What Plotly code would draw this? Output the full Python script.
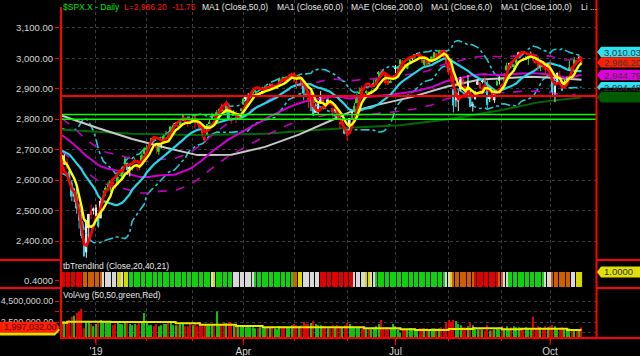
import numpy as np
import pandas as pd
import plotly.graph_objects as go

# ---------------- data ----------------
HOLIDAYS = ["2018-12-25", "2019-01-01", "2019-01-21", "2019-02-18", "2019-04-19",
            "2019-05-27", "2019-07-04", "2019-09-02"]
START, END = "2018-12-11", "2019-10-18"

# closes before the first visible bar (Sep 28 - Dec 10 2018), used by the moving averages
PRE_CLOSE = [2913.98,
             2924.59, 2923.43, 2925.51, 2901.61, 2885.57, 2884.43, 2880.34, 2785.68, 2728.37, 2767.13,
             2750.79, 2809.92, 2809.21, 2768.78, 2767.78, 2755.88, 2740.69, 2656.10, 2705.57, 2658.69,
             2641.25, 2682.63, 2711.74,
             2740.37, 2723.06, 2738.31, 2755.45, 2813.89, 2806.83, 2781.01, 2726.22, 2722.18, 2701.58,
             2730.20, 2736.27, 2690.73, 2641.89, 2649.93, 2632.56, 2673.45, 2682.17, 2743.79, 2737.80,
             2760.17,
             2790.37, 2700.06, 2695.95, 2633.08, 2637.72]

OPEN = [2664, 2658, 2659, 2629, 2591, 2559, 2547, 2497, 2466, 2401, 2363, 2443, 2499, 2499,
        2477, 2491, 2475, 2536, 2569, 2580, 2574, 2588, 2580, 2586, 2614, 2609, 2652, 2657, 2643, 2638, 2658, 2644, 2644, 2654, 2686,
        2702, 2706, 2727, 2736, 2717, 2693, 2712, 2722, 2751, 2743, 2760, 2770, 2785, 2780, 2780, 2804, 2793, 2787, 2789,
        2798, 2814, 2795, 2791, 2764, 2730, 2748, 2787, 2799, 2810, 2811, 2823, 2841, 2831, 2819, 2845, 2797, 2812, 2820, 2809, 2829,
        2848, 2869, 2877, 2874, 2884, 2888, 2886, 2881, 2892, 2900, 2908, 2912, 2916, 2905, 2899, 2910, 2934, 2928, 2926, 2941, 2937,
        2952, 2923, 2930, 2909, 2913, 2880, 2859, 2863, 2841, 2821, 2821, 2855, 2859, 2841, 2855, 2857, 2837, 2833, 2831, 2790, 2787, 2767,
        2752, 2763, 2819, 2828, 2852, 2885, 2903, 2882, 2886, 2886, 2889, 2906, 2920, 2950, 2952, 2952, 2945, 2926, 2920, 2932,
        2971, 2965, 2979, 2984, 2980, 2966, 2989, 3003, 3003, 3017, 3012, 3006, 2978, 3004, 2982, 2994, 2999, 3016, 3013, 3024, 3007, 3017,
        2981, 2943, 2898, 2862, 2858, 2897, 2930, 2908, 2880, 2894, 2846, 2865, 2913, 2919, 2922, 2931, 2911, 2866, 2894, 2862, 2910, 2937,
        2910, 2924, 2960, 2980, 2989, 2971, 2982, 3019, 3013, 2997, 2996, 3001, 3010, 3009, 2984, 3003, 2969, 2985, 2985, 2968,
        2984, 2925, 2885, 2918, 2945, 2921, 2912, 2919, 2964, 2966, 2974, 2990, 3001, 2996]
HIGH = [2674, 2685, 2671, 2635, 2601, 2573, 2585, 2510, 2505, 2410, 2468, 2489, 2520, 2510,
        2520, 2493, 2538, 2566, 2580, 2595, 2597, 2596, 2589, 2613, 2625, 2645, 2675, 2657, 2654, 2648, 2673, 2650, 2653, 2691, 2708,
        2716, 2725, 2738, 2739, 2719, 2708, 2719, 2749, 2762, 2757, 2776, 2787, 2790, 2781, 2793, 2814, 2803, 2796, 2793,
        2808, 2817, 2796, 2791, 2767, 2744, 2784, 2799, 2821, 2815, 2830, 2836, 2852, 2843, 2861, 2852, 2809, 2830, 2826, 2819, 2837,
        2869, 2872, 2885, 2881, 2893, 2896, 2886, 2889, 2893, 2911, 2909, 2917, 2918, 2909, 2910, 2937, 2937, 2933, 2940, 2949, 2949,
        2954, 2932, 2948, 2932, 2913, 2898, 2875, 2891, 2841, 2852, 2859, 2892, 2875, 2854, 2868, 2865, 2837, 2841, 2841, 2792, 2799, 2772,
        2763, 2804, 2828, 2853, 2885, 2904, 2910, 2888, 2895, 2894, 2898, 2931, 2932, 2958, 2964, 2955, 2947, 2932, 2929, 2944,
        2978, 2973, 2996, 2994, 2981, 2981, 3002, 3005, 3014, 3017, 3015, 3006, 2996, 3006, 2990, 3005, 3019, 3017, 3028, 3026, 3018, 3018,
        3013, 2945, 2898, 2885, 2892, 2939, 2935, 2909, 2944, 2894, 2857, 2893, 2931, 2923, 2928, 2939, 2927, 2880, 2899, 2890, 2930, 2941,
        2915, 2939, 2985, 2985, 2989, 2979, 3001, 3021, 3017, 3003, 3006, 3008, 3022, 3016, 2999, 3007, 2990, 2987, 2988, 2983,
        2993, 2925, 2911, 2953, 2959, 2926, 2929, 2940, 2993, 2973, 3004, 2994, 3009, 3000]
LOW = [2621, 2650, 2637, 2593, 2531, 2528, 2489, 2441, 2409, 2347, 2345, 2398, 2472, 2487,
       2467, 2444, 2474, 2524, 2548, 2568, 2562, 2577, 2570, 2586, 2612, 2606, 2647, 2617, 2612, 2631, 2657, 2631, 2633, 2648, 2677,
       2697, 2701, 2724, 2727, 2687, 2682, 2703, 2722, 2748, 2732, 2758, 2767, 2775, 2764, 2775, 2794, 2790, 2776, 2782,
       2788, 2768, 2782, 2769, 2740, 2722, 2748, 2786, 2799, 2804, 2810, 2822, 2823, 2812, 2818, 2800, 2786, 2812, 2787, 2799, 2827,
       2848, 2859, 2866, 2868, 2882, 2880, 2873, 2879, 2882, 2898, 2897, 2901, 2895, 2897, 2899, 2909, 2926, 2913, 2917, 2940, 2932,
       2923, 2900, 2930, 2901, 2862, 2874, 2836, 2826, 2810, 2821, 2816, 2855, 2852, 2832, 2855, 2852, 2806, 2820, 2801, 2766, 2777, 2750,
       2729, 2763, 2800, 2822, 2852, 2883, 2878, 2874, 2882, 2880, 2887, 2905, 2912, 2937, 2947, 2944, 2911, 2913, 2918, 2929,
       2952, 2955, 2979, 2967, 2970, 2964, 2984, 2993, 3000, 3008, 3002, 2984, 2971, 2975, 2976, 2988, 2997, 2996, 3012, 3014, 3001, 2967,
       2946, 2914, 2822, 2840, 2826, 2893, 2900, 2873, 2877, 2839, 2825, 2865, 2913, 2899, 2917, 2904, 2834, 2856, 2860, 2853, 2910, 2914,
       2892, 2921, 2960, 2973, 2969, 2958, 2978, 3003, 3003, 2990, 2993, 2978, 3004, 2986, 2982, 2958, 2957, 2963, 2945, 2968,
       2938, 2874, 2856, 2918, 2935, 2893, 2907, 2915, 2964, 2960, 2974, 2985, 2992, 2977]
CLOSE = [2636.78, 2651.07, 2650.54, 2599.95, 2545.94, 2546.16, 2506.96, 2467.42, 2416.62, 2351.10, 2467.70, 2488.83, 2485.74, 2506.85,
         2510.03, 2447.89, 2531.94, 2549.69, 2574.41, 2584.96, 2596.64, 2596.26, 2582.61, 2610.30, 2616.10, 2635.96, 2670.71, 2632.90,
         2638.70, 2642.33, 2664.76, 2643.85, 2640.00, 2681.05, 2704.10,
         2706.53, 2724.87, 2737.70, 2731.61, 2706.05, 2707.88, 2709.80, 2744.73, 2753.03, 2745.73, 2775.60, 2779.76, 2784.70, 2774.88,
         2792.67, 2796.11, 2793.90, 2792.38, 2784.49,
         2803.69, 2792.81, 2789.65, 2771.45, 2748.93, 2743.07, 2783.30, 2791.52, 2810.92, 2808.48, 2822.48, 2832.94, 2832.57, 2824.23,
         2854.88, 2800.71, 2798.36, 2818.46, 2805.37, 2815.44, 2834.40,
         2867.19, 2867.24, 2873.40, 2879.39, 2892.74, 2895.77, 2878.20, 2888.21, 2888.32, 2907.41, 2905.58, 2907.06, 2900.45, 2905.03,
         2907.97, 2933.68, 2927.25, 2926.17, 2939.88, 2943.03, 2945.83,
         2923.73, 2917.52, 2945.64, 2932.47, 2884.05, 2879.42, 2870.72, 2881.40, 2811.87, 2834.41, 2850.96, 2876.32, 2859.53, 2840.23,
         2864.36, 2856.27, 2822.24, 2826.06, 2802.39, 2783.02, 2788.86, 2752.06,
         2744.45, 2803.27, 2826.15, 2843.49, 2873.34, 2886.73, 2885.72, 2879.84, 2891.64, 2886.98, 2889.67, 2917.75, 2926.46, 2954.18,
         2950.46, 2945.35, 2917.38, 2913.78, 2924.92, 2941.76,
         2964.33, 2973.01, 2995.82, 2990.41, 2975.95, 2979.63, 2993.07, 2999.91, 3013.77, 3014.30, 3004.04, 2984.42, 2995.11, 2976.61,
         2985.03, 3005.47, 3019.56, 3003.67, 3025.86, 3020.97, 3013.18, 2980.38,
         2953.56, 2932.05, 2844.74, 2881.77, 2883.98, 2938.09, 2918.65, 2882.70, 2926.32, 2840.60, 2847.60, 2888.68, 2923.65, 2900.51,
         2924.43, 2922.95, 2847.11, 2878.38, 2869.16, 2887.94, 2924.58, 2926.46,
         2906.27, 2937.78, 2976.00, 2978.71, 2978.43, 2979.39, 3000.93, 3009.57, 3007.39, 2997.96, 3005.70, 3006.73, 3006.79, 2992.07,
         2991.78, 2966.60, 2984.87, 2977.62, 2961.79, 2976.74,
         2940.25, 2887.61, 2910.63, 2952.01, 2938.79, 2893.06, 2919.40, 2938.13, 2970.27, 2966.15, 2995.68, 2989.69, 2997.95, 2986.20]

VOLUME_M = [2.6, 2.6, 2.5, 2.7, 3.0, 3.1, 3.35, 3.45, 3.75, 1.9, 2.5, 2.6, 2.3, 2.1,
            2.3, 2.6, 2.7, 2.6, 2.5, 2.5, 2.4, 2.2, 2.3, 2.4, 2.3, 2.3, 2.5, 2.4, 2.3, 2.2, 2.3, 2.2, 2.4, 2.6, 3.35,
            2.4, 2.2, 2.2, 2.1, 2.3, 2.1, 2.2, 2.3, 2.3, 2.4, 2.4, 2.2, 2.2, 2.2, 2.3, 2.4, 2.1, 2.1, 2.3,
            2.2, 2.3, 2.1, 2.2, 2.3, 2.3, 2.2, 2.2, 2.3, 2.2, 3.5, 2.2, 2.3, 2.4, 2.4, 2.5, 2.4, 2.2, 2.2, 2.1, 2.2,
            2.2, 2.0, 2.1, 2.0, 2.0, 1.9, 1.9, 2.0, 1.9, 2.0, 2.0, 2.0, 2.1, 1.9, 1.8, 2.1, 2.0, 2.1, 2.0, 2.0, 2.2,
            2.3, 2.2, 2.1, 2.2, 2.5, 2.3, 2.3, 2.4, 2.6, 2.3, 2.2, 2.2, 2.1, 2.0, 1.9, 1.9, 2.2, 2.0, 2.2, 2.1, 2.0, 2.2,
            2.4, 2.3, 2.1, 2.0, 2.0, 2.0, 1.9, 1.9, 1.9, 1.9, 1.8, 2.0, 2.1, 2.3, 2.7, 1.9, 2.0, 2.0, 1.9, 2.3,
            2.1, 1.8, 1.5, 1.8, 1.8, 1.8, 1.9, 1.9, 1.9, 1.8, 1.9, 1.9, 1.9, 1.9, 1.8, 1.9, 1.9, 1.9, 1.9, 2.0, 1.9, 2.5,
            2.7, 2.5, 2.7, 2.6, 2.3, 2.2, 2.0, 2.0, 2.1, 2.4, 2.2, 2.0, 1.8, 1.9, 1.8, 1.7, 2.2, 1.7, 1.7, 1.8, 1.9, 1.8,
            2.1, 1.9, 2.1, 1.8, 2.0, 2.1, 2.0, 2.0, 1.9, 1.9, 2.0, 1.9, 1.9, 3.0, 1.9, 2.1, 2.0, 1.9, 2.1, 2.0,
            2.1, 2.2, 2.1, 1.9, 1.8, 2.0, 1.8, 1.8, 1.9, 1.7, 1.8, 1.8, 1.8, 1.997032]

# slow averages
MA100_DATES = ["2018-12-11", "2019-01-03", "2019-01-24", "2019-02-13", "2019-03-05", "2019-03-25", "2019-04-12",
               "2019-05-03", "2019-05-23", "2019-06-04", "2019-06-19", "2019-07-03", "2019-07-11", "2019-07-31",
               "2019-08-20", "2019-09-19", "2019-10-02", "2019-10-18"]
MA100_VALS = [2811, 2770, 2735, 2706, 2682, 2683, 2709, 2749, 2798, 2823, 2846, 2863, 2873, 2906, 2930, 2939, 2936, 2929]
MA200_DATES = ["2018-12-11", "2019-01-24", "2019-03-05", "2019-04-12", "2019-05-03", "2019-06-04", "2019-07-03",
               "2019-08-01", "2019-09-03", "2019-09-24", "2019-10-18"]
MA200_VALS = [2765, 2752, 2748, 2752, 2760, 2772, 2780, 2800, 2830, 2855, 2872]
VOLAVG_DATES = ["2018-12-11", "2018-12-13", "2019-01-10", "2019-02-20", "2019-03-06", "2019-03-27", "2019-04-11",
                "2019-06-12", "2019-07-03", "2019-07-12", "2019-08-01", "2019-08-15", "2019-09-03", "2019-09-13",
                "2019-10-10", "2019-10-18"]
VOLAVG_VALS = [2.43, 2.53, 2.50, 2.37, 2.24, 2.12, 1.99, 1.90, 1.80, 1.74, 1.83, 1.90, 1.80, 1.86, 1.74, 1.74]

LEVELS = [2876, 2815, 2800]
LEVEL_COLORS = ["#ff0000", "#00ff00", "#00ff00"]

TREND_RUNS = [("r", 9), ("o", 8), ("w", 6), ("y", 2), ("w", 1), ("y", 2), ("g", 34), ("w", 1), ("y", 1), ("g", 7),
              ("w", 9), ("g", 16), ("o", 2), ("y", 2), ("w", 7), ("r", 14), ("w", 5), ("y", 2), ("w", 2), ("g", 29),
              ("w", 2), ("y", 1), ("o", 9), ("r", 10), ("o", 2), ("w", 2), ("g", 15), ("w", 3), ("o", 8), ("w", 2), ("y", 3)]
TREND_COLORS = {"r": "#e00000", "o": "#cc6000", "w": "#d8d8d8", "y": "#d8d800", "g": "#10d010"}

PRICE_TAGS = [3010.03, 2986.20, 2944.79, 2904.48]
PRICE_TAG_COLORS = ["#30e0f0", "#ff2000", "#e000e0", "#30e0f0"]

# ---------------- derived ----------------
dates = pd.bdate_range(START, END)
dates = dates[~dates.isin(pd.to_datetime(HOLIDAYS))]
n = len(dates)
assert n == len(CLOSE) == len(OPEN) == len(HIGH) == len(LOW) == len(VOLUME_M), (n, len(CLOSE))
pos = {d: i for i, d in enumerate(dates)}
i0 = pos[pd.Timestamp("2019-01-02")]
X = np.arange(n) - i0


def xi(d):
    return pos[pd.Timestamp(d)] - i0


O = np.array(OPEN, float); H = np.array(HIGH, float); L = np.array(LOW, float); C = np.array(CLOSE, float)
allc = pd.Series(PRE_CLOSE + CLOSE)
k0 = len(PRE_CLOSE)
ma6 = allc.rolling(6).mean().values[k0:]
ma20 = allc.rolling(20).mean().values[k0:]
sd20 = allc.rolling(20).std(ddof=0).values[k0:]
ma50 = allc.rolling(50).mean().values[k0:]
tt = np.arange(10)
lsma = allc.rolling(10).apply(lambda w: np.polyval(np.polyfit(tt, w, 1), 9), raw=True).values[k0:]
prevC = np.concatenate([[PRE_CLOSE[-1]], C[:-1]])

cand_col = []
for i in range(n):
    if C[i] >= prevC[i]:
        cand_col.append("#20e020" if (C[i] >= O[i] and C[i] >= ma20[i]) else "#e8e8e8")
    else:
        cand_col.append("#20d8e8" if (prevC[i] - C[i]) / prevC[i] > 0.013 else "#ff1010")
vol_col = ["#10c010" if C[i] >= prevC[i] else "#e00000" for i in range(n)]
trend_col = [TREND_COLORS[c] for c, k in TREND_RUNS for _ in range(k)]
assert len(trend_col) == n

# ---------------- figure ----------------
W, PH, B = 640, 338, 356
def px(x): return (x - 60) / 536
def py(y): return (PH - y) / PH

FONT = "Arial, Liberation Sans, sans-serif"
fig = go.Figure()

def line(x, y, color, width, dash="solid", shape="linear", yaxis="y"):
    fig.add_trace(go.Scatter(x=x, y=y, mode="lines", line=dict(color=color, width=width, dash=dash, shape=shape),
                             yaxis=yaxis, hoverinfo="skip", showlegend=False))

line(X, ma20 + 1.6 * sd20, "#20c8d8", 1.6, "dashdot")
line(X, ma20 - 1.6 * sd20, "#20c8d8", 1.6, "dashdot")
line([xi(d) for d in MA200_DATES], MA200_VALS, "#006a00", 2)
line([xi(d) for d in MA100_DATES], MA100_VALS, "#c8c8c8", 2)
line(X, ma50 * 1.02, "#c000c0", 1.6, "dash")
line(X, ma50 * 0.98, "#c000c0", 1.6, "dash")
line(X, ma50, "#d000d0", 2)
line(X, ma20, "#20d8e8", 2.2)

# candles: wicks + bodies
for col in sorted(set(cand_col)):
    xs, ys = [], []
    for i in range(n):
        if cand_col[i] == col:
            xs += [X[i], X[i], None]
            ys += [L[i], H[i], None]
    fig.add_trace(go.Scatter(x=xs, y=ys, mode="lines", line=dict(color=col, width=1), hoverinfo="skip", showlegend=False))
fig.add_trace(go.Bar(x=X, y=np.maximum(np.abs(C - O), 2.5), base=np.minimum(O, C), width=0.75,
                     marker=dict(color=cand_col, line=dict(width=0)), hoverinfo="skip", showlegend=False))

line(X, lsma, "#ff0000", 2.6)
line(X, ma6, "#ffff00", 2.4)

# trend panel
fig.add_trace(go.Bar(x=X, y=[1.0] * n, width=0.5, marker=dict(color=trend_col, line=dict(width=0)), yaxis="y3",
                     hoverinfo="skip", showlegend=False))
# volume panel
fig.add_trace(go.Bar(x=X, y=np.array(VOLUME_M) * 1e6, width=0.5, marker=dict(color=vol_col, line=dict(width=0)),
                     yaxis="y5", hoverinfo="skip", showlegend=False))
line([xi(d) for d in VOLAVG_DATES], np.array(VOLAVG_VALS) * 1e6, "#e8e800", 2, shape="hv", yaxis="y5")

GRID = dict(showgrid=True, gridcolor="#3c3c3c", griddash="dot", gridwidth=1)
def ax(size):
    return dict(automargin=False, zeroline=False, showline=False, ticks="outside", tickcolor="#ff0000", ticklen=4,
                tickfont=dict(color="#d4d4d4", size=size, family=FONT))

pr_lo, pr_hi = 2341.1, 3190.9
ptick = [2400, 2500, 2600, 2700, 2800, 2900, 3000, 3100]
month_major = ["2019-01-02", "2019-04-01", "2019-07-01", "2019-10-01"]
month_minor = ["2019-02-01", "2019-03-01", "2019-05-01", "2019-06-03", "2019-08-01", "2019-09-03"]
vt = [1.5e6, 2.5e6, 3.5e6, 4.5e6]

fig.update_layout(
    width=W, height=B, margin=dict(l=60, r=44, t=0, b=B - PH, autoexpand=False),
    paper_bgcolor="black", plot_bgcolor="black", barmode="overlay", showlegend=False,
    font=dict(family=FONT, color="#d4d4d4", size=9),
    xaxis=dict(domain=[0, 1], anchor="y5", range=[-14.9, 207.0], tickmode="array",
               tickvals=[xi(d) for d in month_major], ticktext=["'19", "Apr", "Jul", "Oct"],
               ticks="outside", tickcolor="#ff0000", ticklen=4, tickwidth=1,
               tickfont=dict(color="#d4d4d4", size=10, family=FONT), automargin=False,
               minor=dict(tickvals=[xi(d) for d in month_minor], ticks="outside", ticklen=2, tickcolor="#ff0000",
                          showgrid=True, gridcolor="#3c3c3c", griddash="dot"),
               zeroline=False, showline=False, **GRID),
    yaxis=dict(domain=[py(259), 1], range=[pr_lo, pr_hi], tickvals=ptick, tickformat=",.2f", **ax(9.5), **GRID),
    yaxis2=dict(overlaying="y", side="right", range=[pr_lo, pr_hi], tickvals=ptick, tickformat=",.2f",
                showgrid=False, **ax(9.5)),
    yaxis3=dict(domain=[py(288), py(260)], range=[-0.07, 1.8], tickvals=[0.4], ticktext=["0.4000"],
                showgrid=False, anchor="x", **ax(9.5)),
    yaxis4=dict(overlaying="y3", side="right", range=[-0.07, 1.8], tickvals=[0.4], ticktext=["0.4000"],
                showgrid=False, **ax(9.5)),
    yaxis5=dict(domain=[0, py(290)], range=[0.976e6, 5.548e6], tickvals=vt,
                ticktext=["", "2,500,000.00", "", "4,500,000.00"], anchor="x", **ax(9), **GRID),
    yaxis6=dict(overlaying="y5", side="right", range=[0.976e6, 5.548e6], tickvals=vt,
                ticktext=["", "2,500,0...", "", "4,500,0..."], showgrid=False, **ax(9)),
)

shapes = []
RED = "#ff0000"
for v, c in zip(LEVELS, LEVEL_COLORS):
    shapes.append(dict(type="line", xref="paper", yref="y", x0=0, x1=1, y0=v, y1=v,
                       line=dict(color=c, width=2 if c == RED else 1.5), layer="above"))
shapes.append(dict(type="line", xref="paper", yref="paper", x0=px(61), x1=px(61), y0=py(7), y1=0, line=dict(color=RED, width=2)))
shapes.append(dict(type="line", xref="paper", yref="paper", x0=px(596.5), x1=px(596.5), y0=py(0), y1=0, line=dict(color=RED, width=2)))
for yy in (260, 288):
    shapes.append(dict(type="line", xref="paper", yref="paper", x0=px(0), x1=px(60), y0=py(yy), y1=py(yy), line=dict(color=RED, width=2)))
    shapes.append(dict(type="line", xref="paper", yref="paper", x0=px(597), x1=px(640), y0=py(yy), y1=py(yy), line=dict(color=RED, width=2)))
shapes.append(dict(type="line", xref="paper", yref="paper", x0=px(60), x1=px(640), y0=0, y1=0, line=dict(color=RED, width=2)))
# longer quarter tick marks on the time axis
for d in month_major:
    shapes.append(dict(type="line", xref="x", yref="paper", x0=xi(d), x1=xi(d), y0=0, y1=py(345),
                       line=dict(color=RED, width=1)))

annotations = []

def tag_right(val, bg, txt, txtcol, yref, half, fs=9):
    x0, x1, xt = px(597), px(640), px(601)
    shapes.append(dict(type="path", xref="paper", yref=yref, fillcolor=bg, line=dict(width=0),
                       path=f"M {x0},{val} L {xt},{val + half} L {x1},{val + half} L {x1},{val - half} L {xt},{val - half} Z"))
    if txt:
        annotations.append(dict(x=px(603), y=val, xref="paper", yref=yref, text=txt, showarrow=False, xanchor="left",
                                yanchor="middle", borderpad=0, font=dict(color=txtcol, size=fs, family=FONT)))

half_p = 5.2 / 0.30571
# stack the price tags so they do not cover each other (last price stays at its level)
tag_pos = list(PRICE_TAGS)
ref_i = 1
for j in range(ref_i - 1, -1, -1):
    tag_pos[j] = max(tag_pos[j], tag_pos[j + 1] + 2 * half_p)
for j in range(ref_i + 1, len(tag_pos)):
    tag_pos[j] = min(tag_pos[j], tag_pos[j - 1] - 2 * half_p)
for v, p, bg in zip(PRICE_TAGS, tag_pos, PRICE_TAG_COLORS):
    tag_right(p, bg, f"{v:,.2f}", "#383838", "y", half_p, 9.5)
tag_right(round(float(ma50[-1] * 0.98), 2), "#0a0a0a", "", "#0a2a20", "y", half_p)
tag_right(MA200_VALS[-1], "#005a00", "", "#003a00", "y", half_p)
tag_right(1.0, "#e0e000", "1.0000", "#303030", "y3", 5.5 / 14.97, 9.5)

# left volume tags
vh = 5.5 / 10.5 * 1e6
for val, bg, txt, tc in [(VOLAVG_VALS[-1] * 1e6, "#e0e000", "", "#303030"),
                         (VOLUME_M[-1] * 1e6, "#ff2000", f"{VOLUME_M[-1] * 1e6:,.2f}", "#5a0000")]:
    shapes.append(dict(type="path", xref="paper", yref="y5", fillcolor=bg, line=dict(width=0),
                       path=f"M {px(0)},{val + vh} L {px(55)},{val + vh} L {px(60)},{val} L {px(55)},{val - vh} L {px(0)},{val - vh} Z"))
    if txt:
        annotations.append(dict(x=px(3), y=val, xref="paper", yref="y5", text=txt, showarrow=False, xanchor="left",
                                yanchor="middle", borderpad=0, font=dict(color=tc, size=9, family=FONT)))

TOP = [("$SPX.X - Daily", 62, "#00e000"), ("L=2,986.20", 123, "#ff1010"), ("-11.75", 171, "#ff1010"),
       ("MA1 (Close,50,0)", 201, "#e8e8e8"), ("MA1 (Close,60,0)", 276, "#e8e8e8"), ("MAE (Close,200,0)", 350, "#e8e8e8"),
       ("MA1 (Close,6,0)", 430, "#e8e8e8"), ("MA1 (Close,100,0)", 500, "#e8e8e8"), ("Li ...", 580, "#e8e8e8")]
for txt, x, c in TOP:
    annotations.append(dict(x=px(x), y=py(7), xref="paper", yref="paper", text=txt, showarrow=False, xanchor="left",
                            yanchor="middle", borderpad=0, font=dict(color=c, size=8.5, family=FONT)))
annotations.append(dict(x=px(62), y=py(266), xref="paper", yref="paper", text="tbTrendInd (Close,20,40,21)", showarrow=False,
                        xanchor="left", yanchor="middle", borderpad=0, font=dict(color="#e8e8e8", size=8.5, family=FONT)))
annotations.append(dict(x=px(62), y=py(295), xref="paper", yref="paper", text="VolAvg (50,50,green,Red)", showarrow=False,
                        xanchor="left", yanchor="middle", borderpad=0, font=dict(color="#e8e8e8", size=8.5, family=FONT)))

fig.update_layout(shapes=shapes, annotations=annotations)
fig.write_html("out.html")
